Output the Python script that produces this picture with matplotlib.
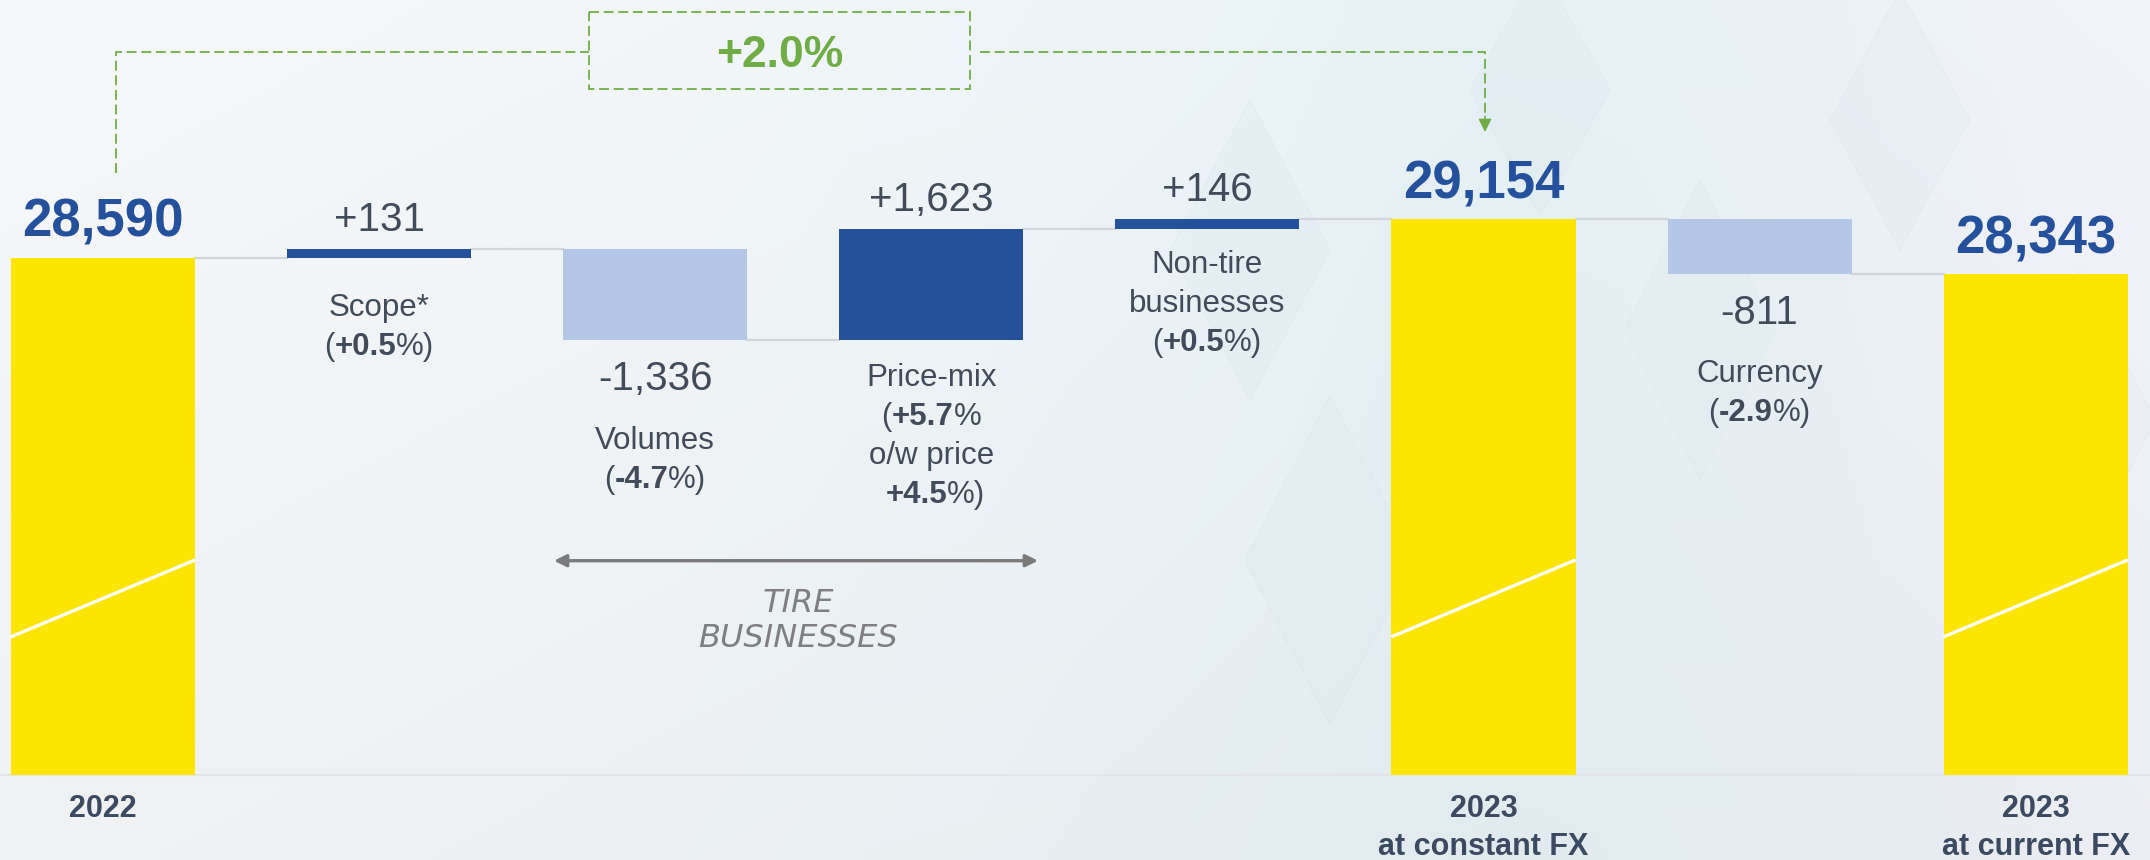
import matplotlib
matplotlib.use("Agg")
import matplotlib.pyplot as plt
import numpy as np
from matplotlib.patches import Rectangle, Polygon
from matplotlib.colors import to_rgb

# ---------------- data ----------------
steps = ["2022", "Scope", "Volumes", "Price-mix", "Non-tire businesses",
         "2023 at constant FX", "Currency", "2023 at current FX"]
values = [28590, 131, -1336, 1623, 146, 29154, -811, 28343]
is_total = [True, False, False, False, False, True, False, True]
value_labels = ["28,590", "+131", "-1,336", "+1,623", "+146", "29,154", "-811", "28,343"]
total_xlabels = {0: ["2022"], 5: ["2023", "at constant FX"], 7: ["2023", "at current FX"]}
# category captions: list of lines, each line = list of (text, bold)
captions = {
    1: [[("Scope*", False)], [("(", False), ("+0.5", True), ("%)", False)]],
    2: [[("Volumes", False)], [("(", False), ("-4.7", True), ("%)", False)]],
    3: [[("Price-mix", False)], [("(", False), ("+5.7", True), ("%", False)],
        [("o/w price", False)], [(" ", False), ("+4.5", True), ("%)", False)]],
    4: [[("Non-tire", False)], [("businesses", False)],
        [("(", False), ("+0.5", True), ("%)", False)]],
    6: [[("Currency", False)], [("(", False), ("-2.9", True), ("%)", False)]],
}
growth_label = "+2.0%"
group_label = "TIRE\nBUSINESSES"

# ---------------- style ----------------
FONT = ["Liberation Sans", "DejaVu Sans"]
plt.rcParams["font.family"] = FONT
YELLOW = "#FCE500"
DARK = "#24519A"
LIGHT = "#B4C7E7"
TOTAL_TXT = "#24509C"
GREY_TXT = "#414B5A"
AXIS_TXT = "#3B4A60"
GREEN = "#70AD47"
CONN = "#D2D5D9"

W, H = 2150, 860
fig = plt.figure(figsize=(W / 100, H / 100), dpi=100)

# background gradient
bg = fig.add_axes([0, 0, 1, 1], zorder=0)
xs = np.linspace(0, 1, 430)
ys = np.linspace(0, 1, 172)
stops = [0.0, 0.25, 0.5, 0.7, 0.85, 1.0]
cols = [to_rgb(c) for c in ["#F2F4F6", "#F0F3F5", "#EAF1F4", "#E3EEF2", "#E7EEF3", "#EFF0F5"]]
row = np.stack([np.interp(xs, stops, [c[k] for c in cols]) for k in range(3)], axis=-1)
vert = 1.0 + 0.025 * (1 - ys)[:, None, None] - 0.01
img = np.clip(row[None, :, :] * vert, 0, 1)
bg.imshow(img, extent=[0, W, H, 0], aspect="auto", interpolation="bilinear")
bg.set_xlim(0, W)
bg.set_ylim(H, 0)
for cx, cy, w, h in [(1250, 250, 160, 300), (1330, 560, 170, 330), (1700, 330, 150, 300),
                     (1900, 120, 140, 260), (2080, 420, 150, 300), (1540, 90, 140, 250)]:
    bg.add_patch(Polygon([(cx, cy - h / 2), (cx + w / 2, cy), (cx, cy + h / 2), (cx - w / 2, cy)],
                         closed=True, facecolor="#D5E3EA", edgecolor="#CFDDE5",
                         alpha=0.16, lw=1))
bg.axis("off")

# main axes (truncated value axis, bars start at BASE)
ax = fig.add_axes([0, 0, 1, 1], zorder=1)
ax.patch.set_alpha(0)
Y_BOTTOM, Y_TOP, BASE = 19735, 32375, 20985
ax.set_ylim(Y_BOTTOM, Y_TOP)
ax.set_xlim(-0.373, 7.414)
ax.axis("off")
BW = 0.667

# baseline
ax.axhline(BASE, color="#E2E5E8", lw=1.5, zorder=1)

running = 0
tops, bottoms = [], []
for i, (v, tot) in enumerate(zip(values, is_total)):
    if tot:
        b, t = BASE, v
        running = v
        color = YELLOW
    else:
        start, end = running, running + v
        b, t = min(start, end), max(start, end)
        running = end
        color = DARK if v > 0 else LIGHT
    ax.bar(i, t - b, bottom=b, width=BW, color=color, edgecolor="none", zorder=3)
    tops.append(t)
    bottoms.append(b)
    if i < len(values) - 1:
        ax.plot([i + BW / 2, i + 1 - BW / 2], [running, running], color=CONN, lw=1.6, zorder=2)

# axis-break slash on total bars
br1, br2 = BASE + 2030, BASE + 3160
for i, tot in enumerate(is_total):
    if tot:
        ax.plot([i - BW / 2, i + BW / 2], [br1, br2], color="white", lw=2.4,
                solid_capstyle="butt", zorder=4)

renderer = fig.canvas.get_renderer()


def rich_line(x, y, dy, pieces, size, color):
    widths = []
    for s, b in pieces:
        t = ax.text(0, 0, s, fontsize=size, fontweight="bold" if b else "normal")
        widths.append(t.get_window_extent(renderer).width)
        t.remove()
    dx = -sum(widths) / 2
    for (s, b), w in zip(pieces, widths):
        ax.annotate(s, xy=(x, y), xytext=(dx, dy), textcoords="offset pixels",
                    ha="left", va="baseline", fontsize=size,
                    fontweight="bold" if b else "normal", color=color, zorder=5)
        dx += w


# value labels
for i, (v, tot) in enumerate(zip(values, is_total)):
    if tot:
        ax.annotate(value_labels[i], xy=(i, tops[i]), xytext=(0, 21), textcoords="offset pixels",
                    ha="center", va="baseline", fontsize=38, fontweight="bold",
                    color=TOTAL_TXT, zorder=5)
    elif v > 0:
        ax.annotate(value_labels[i], xy=(i, tops[i]), xytext=(0, 18), textcoords="offset pixels",
                    ha="center", va="baseline", fontsize=29, color=GREY_TXT, zorder=5)
    else:
        ax.annotate(value_labels[i], xy=(i, bottoms[i]), xytext=(0, -50), textcoords="offset pixels",
                    ha="center", va="baseline", fontsize=29, color=GREY_TXT, zorder=5)

# captions
caption_gap = {1: 58, 2: 109, 3: 46, 4: 44, 6: 108}
LINE = 39
for i, lines in captions.items():
    for k, pieces in enumerate(lines):
        rich_line(i, bottoms[i], -caption_gap[i] - k * LINE, pieces, 22.5, GREY_TXT)

# bottom labels for totals
for i, lines in total_xlabels.items():
    for k, s in enumerate(lines):
        ax.annotate(s, xy=(i, BASE), xytext=(0, -42 - k * 38.5), textcoords="offset pixels",
                    ha="center", va="baseline", fontsize=22, fontweight="bold",
                    color=AXIS_TXT, zorder=5)

# overlay (pixel coordinates) for decorations
ov = fig.add_axes([0, 0, 1, 1], zorder=2)
ov.patch.set_alpha(0)
ov.set_xlim(0, W)
ov.set_ylim(H, 0)
ov.axis("off")
dash = (0, (5.5, 2.6))
ov.plot([116, 116, 589], [173, 51.7, 51.7], color=GREEN, lw=1.3, ls=dash)
ov.add_patch(Rectangle((589, 12.3), 381, 77, fill=False, edgecolor=GREEN, lw=1.3, ls=dash))
ov.plot([980, 1485, 1485], [51.7, 51.7, 118], color=GREEN, lw=1.3, ls=dash)
ov.annotate("", xy=(1485, 132), xytext=(1485, 116),
            arrowprops=dict(arrowstyle="-|>", color=GREEN, lw=1.0, mutation_scale=20,
                            shrinkA=0, shrinkB=0))
ov.text(780, 66.7, growth_label, ha="center", va="baseline", fontsize=32,
        fontweight="bold", color=GREEN)

# tire businesses double arrow
ov.annotate("", xy=(554, 560.7), xytext=(1038, 560.7),
            arrowprops=dict(arrowstyle="<|-|>", color="#7A7A7A", lw=2.4, mutation_scale=18,
                            shrinkA=0, shrinkB=0))
gl = group_label.split("\n")
ov.text(798, 611.7, gl[0], ha="center", va="baseline", fontsize=23, style="italic",
        color="#7F7F7F", family="DejaVu Sans")
ov.text(798, 646.7, gl[1], ha="center", va="baseline", fontsize=23, style="italic",
        color="#7F7F7F", family="DejaVu Sans")

fig.savefig("out.png", dpi=100)
